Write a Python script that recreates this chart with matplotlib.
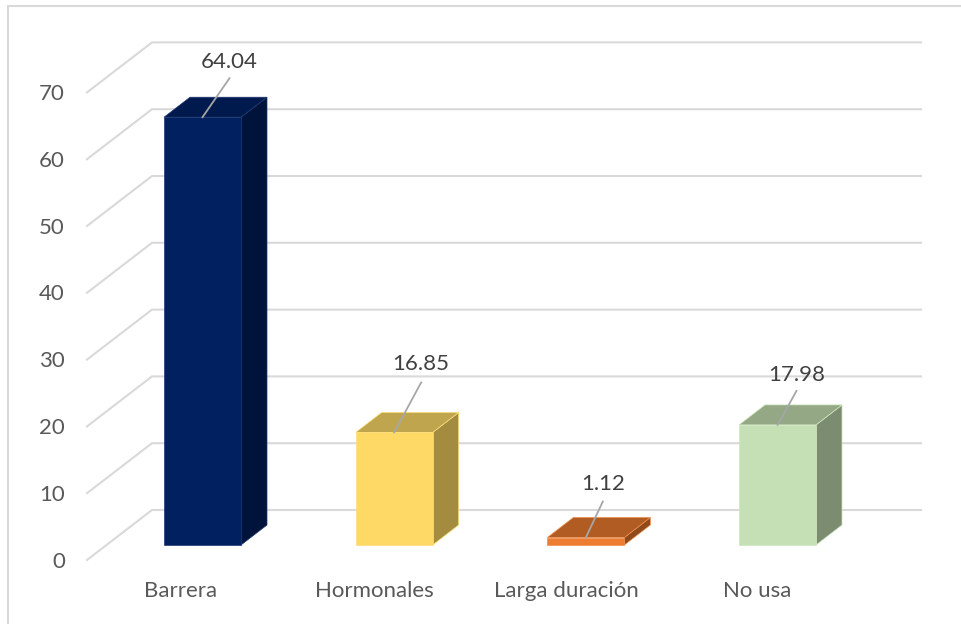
import matplotlib
matplotlib.use("Agg")
import matplotlib.pyplot as plt
from matplotlib.patches import Polygon

plt.rcParams['font.family'] = ['Lato', 'DejaVu Sans']

# Data
categories = ['Barrera', 'Hormonales', 'Larga duración', 'No usa']
values = [64.04, 16.85, 1.12, 17.98]
yticks = [0, 10, 20, 30, 40, 50, 60, 70]

# Colours per bar
front_colors = ['#002060', '#FFD966', '#ED7D31', '#C5E0B4']
top_colors = ['#001A4D', '#BFA64E', '#B15C22', '#94A886']
side_colors = ['#00133A', '#A38C40', '#8E4A1B', '#7B8C70']
edge_colors = ['#1F3A73', '#FFDE7A', '#F08C4A', '#CFE8BE']

# Layout in pixels of the original picture
W, H = 961, 624
BASE_PY = 545.0
PX_PER_UNIT = 6.68
FIRST_CENTER = 202.5
SPACING = 191.67

fig = plt.figure(figsize=(W / 100, H / 100), dpi=100)
ax = fig.add_axes([0, 0, 1, 1])
x0, x1 = -FIRST_CENTER / SPACING, (W - FIRST_CENTER) / SPACING
y0, y1 = (BASE_PY - H) / PX_PER_UNIT, BASE_PY / PX_PER_UNIT
ax.set_xlim(x0, x1)
ax.set_ylim(y0, y1)
ax.axis('off')

ux = 1 / SPACING      # one pixel in x data units
uy = 1 / PX_PER_UNIT  # one pixel in y data units

# Outer frame, only left and top are inside the picture
ax.plot([x0 + 8 * ux, x0 + 8 * ux, x1], [y0, y1 - 6 * uy, y1 - 6 * uy],
        color='#D9D9D9', lw=1.5, zorder=1, solid_joinstyle='miter')

# Gridlines: the slanted floor part and the back wall
x_front = (87 - FIRST_CENTER) * ux
x_back = (152 - FIRST_CENTER) * ux
x_right = (921 - FIRST_CENTER) * ux
for v in yticks:
    y_front = v + (BASE_PY - 560) * uy
    y_back = v + (BASE_PY - 510) * uy
    ax.plot([x_front, x_back, x_right], [y_front, y_back, y_back],
            color='#D9D9D9', lw=1.5, zorder=2, solid_joinstyle='miter')
    ax.text((65 - FIRST_CENTER) * ux, y_front - 1.5 * uy, str(v), ha='right', va='center',
            fontsize=16, color='#595959')

# Bars drawn as three faces
half = 38.5 * ux
dx = 26 * ux
dy = 20 * uy
label_dx = [-22, -20, -19, -20]
value_dx = [27, 27, 17, 19]
value_dy = [55, 68, 54, 50]
leader_dy = [39, 50, 36, 34]
for i, v in enumerate(values):
    l, r = i - half, i + half
    front = [(l, 0), (r, 0), (r, v), (l, v)]
    top = [(l, v), (r, v), (r + dx, v + dy), (l + dx, v + dy)]
    side = [(r, 0), (r + dx, dy), (r + dx, v + dy), (r, v)]
    for pts, c in ((side, side_colors[i]), (top, top_colors[i]), (front, front_colors[i])):
        ax.add_patch(Polygon(pts, closed=True, facecolor=c, edgecolor=edge_colors[i],
                             lw=0.5, zorder=3))

    # Category label
    ax.text(i + label_dx[i] * ux, (BASE_PY - 591) * uy, categories[i], ha='center', va='center',
            fontsize=16, color='#595959', zorder=5)

    # Leader line and value label
    lx = i + value_dx[i] * ux
    ax.plot([i, lx], [v, v + leader_dy[i] * uy], color='#A6A6A6', lw=1.3, zorder=4)
    ax.text(lx, v + value_dy[i] * uy, '{:.2f}'.format(v), ha='center', va='center',
            fontsize=16, color='#404040', zorder=5)

fig.savefig('out.png', dpi=100)
